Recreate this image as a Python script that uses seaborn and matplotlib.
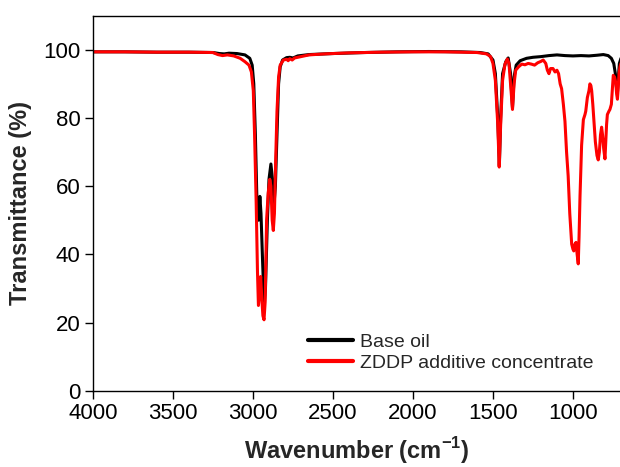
import numpy as np
import pandas as pd
import matplotlib
matplotlib.use("Agg")
import matplotlib.pyplot as plt
import seaborn as sns

# ---- data ----
base_wn = [4000, 3800, 3600, 3400, 3250, 3210, 3180, 3150, 3100, 3050, 3020, 3005,
           2995, 2985, 2975, 2965, 2957, 2950, 2940, 2930, 2922, 2910, 2900, 2888,
           2878, 2868, 2860, 2850, 2840, 2830, 2815, 2790, 2770, 2750, 2720, 2650,
           2500, 2300, 2100, 1900, 1700, 1580, 1530, 1500, 1485, 1470, 1460, 1452,
           1440, 1420, 1405, 1390, 1378, 1368, 1355, 1330, 1290, 1250, 1200, 1150,
           1100, 1050, 1000, 950, 900, 850, 810, 780, 760, 745, 735, 728, 722, 716,
           710, 700]
base_t = [99.4, 99.4, 99.3, 99.3, 99.2, 98.9, 98.8, 99.0, 98.9, 98.5, 97.5, 95.5,
          90, 75, 55, 50, 57, 52, 38, 25, 30, 50, 62, 66.5,
          62, 55, 60, 75, 90, 95, 97, 97.7, 97.8, 97.6, 98.2, 98.6,
          98.9, 99.2, 99.4, 99.5, 99.4, 99.2, 98.8, 97, 93, 80, 66, 80,
          93, 96.5, 97.6, 93, 83, 92, 95.5, 96.8, 97.5, 97.8, 98.0, 98.3,
          98.5, 98.3, 98.2, 98.3, 98.2, 98.4, 98.6, 98.3, 97.5, 96, 93, 89, 87.5, 92,
          96, 97.5]

zddp_wn = [4000, 3800, 3600, 3400, 3250, 3220, 3190, 3160, 3120, 3080, 3050, 3025,
           3010, 2998, 2990, 2980, 2972, 2966, 2958, 2952, 2945, 2938, 2931, 2924,
           2915, 2905, 2895, 2888, 2880, 2873, 2866, 2858, 2850, 2840, 2830, 2810,
           2790, 2780, 2770, 2755, 2740, 2700, 2650, 2550, 2400, 2200, 2000, 1800,
           1600, 1540, 1515, 1500, 1485, 1470, 1461, 1452, 1440, 1425, 1410, 1400,
           1390, 1378, 1368, 1358, 1340, 1320, 1300, 1280, 1260, 1240, 1220, 1200,
           1186, 1170, 1160, 1150, 1140, 1125, 1112, 1100, 1090, 1080, 1071, 1060,
           1050, 1040, 1030, 1020, 1008, 1000, 995, 988, 981, 974, 967, 962, 956,
           946, 935, 925, 920, 910, 900, 894, 888, 883, 876, 869, 860, 850, 842,
           835, 828, 821, 815, 808, 800, 795, 790, 785, 775, 769, 760, 752, 748,
           740, 733, 727, 722, 718, 712, 706, 700]
zddp_t = [99.4, 99.4, 99.3, 99.3, 99.2, 98.6, 98.3, 98.5, 98.2, 97.5, 96.5, 95.5,
          93.5, 88, 75, 55, 35, 25, 30, 33.5, 27, 22, 20.8, 26,
          50, 58, 62, 60, 50, 47, 52, 68, 82, 92, 95.5, 97,
          97.2, 96.8, 97.4, 97.0, 97.6, 98.0, 98.5, 98.8, 99.1, 99.3, 99.4, 99.4,
          99.2, 98.8, 98, 96, 91, 78, 65.6, 78, 91, 95.8, 97.3, 96,
          90, 82.5, 90, 94, 95, 95.8, 95.6, 96, 95.8, 95.5, 96.2, 96.6,
          97, 96, 94, 93, 94.5, 94.5, 93.5, 94, 93, 90, 88.6, 84,
          79, 70, 63, 52, 43, 41.5, 41, 43, 43.5, 40, 37.2, 45, 57,
          72, 79.5, 81, 82, 86, 88, 90, 89.5, 88, 84, 79, 73, 69, 67.7,
          70, 75, 77.3, 75, 71, 68, 73, 78, 81, 82, 82.5, 84, 90, 92.5,
          92, 90.5, 87, 85.5, 88, 93, 95, 96]

series_names = ["Base oil", "ZDDP additive concentrate"]
series_colors = ["#000000", "#ff0000"]
x_ticks = [4000, 3500, 3000, 2500, 2000, 1500, 1000]
y_ticks = [0, 20, 40, 60, 80, 100]

df = pd.concat([
    pd.DataFrame({"wn": base_wn, "T": base_t, "series": series_names[0]}),
    pd.DataFrame({"wn": zddp_wn, "T": zddp_t, "series": series_names[1]}),
], ignore_index=True)

sns.set_theme(style="ticks")
plt.rcParams["font.family"] = ["Liberation Sans", "DejaVu Sans"]
plt.rcParams["mathtext.fontset"] = "custom"
plt.rcParams["mathtext.rm"] = "Liberation Sans"
plt.rcParams["mathtext.bf"] = "Liberation Sans:bold"

fig = plt.figure(figsize=(6.2, 4.67), dpi=100)
W, H = 620, 467
ax = fig.add_axes([93 / W, 1 - 390.7 / H, 1 - 93 / W, (390.7 - 15.7) / H])

sns.lineplot(data=df, x="wn", y="T", hue="series", palette=series_colors,
             hue_order=series_names, estimator=None, sort=False,
             linewidth=2.2, ax=ax, legend=False)

ax.set_xlim(4000, 706)
ax.set_ylim(0, 110)
ax.set_xticks(x_ticks)
ax.set_yticks(y_ticks)
ax.tick_params(axis="both", direction="out", length=6, width=1, labelsize=16,
               pad=3, colors="black")
for s in ["left", "bottom", "top"]:
    ax.spines[s].set_color("black")
    ax.spines[s].set_linewidth(1)
ax.spines["right"].set_visible(False)

ax.set_xlabel(r"Wavenumber (cm$^{\mathbf{-1}}$)", fontsize=17, fontweight="bold",
              labelpad=8)
ax.set_ylabel("Transmittance (%)", fontsize=17, fontweight="bold", labelpad=8)

from matplotlib.lines import Line2D
handles = [Line2D([], [], color=c, lw=3) for c in series_colors]
ax.legend(handles, series_names, frameon=False, fontsize=14,
          loc="center left", bbox_to_anchor=((308 - 93) / 527, (390.7 - 352.5) / 375),
          borderpad=0, borderaxespad=0, handlelength=2.3, handletextpad=0.35,
          labelspacing=0.15)

fig.savefig("out.png", dpi=100)
